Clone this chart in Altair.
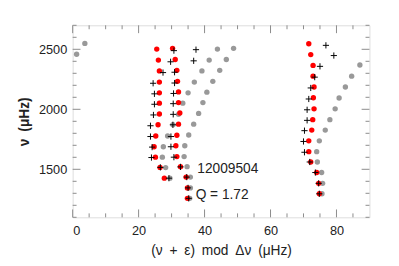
import altair as alt
import pandas as pd

# ---- data ----
red_x = [25.5, 26.0, 26.3, 26.3, 26.3, 26.3, 26.3, 25.9, 25.2, 24.7, 25.1, 26.5, 27.8,
         30.3, 31.1, 31.6, 31.8, 32.1, 32.1, 32.5, 32.1, 31.6, 31.3, 31.6, 32.7, 34.4, 34.8, 34.8,
         71.6, 72.2, 72.9, 72.9, 73.2, 73.0, 73.2, 72.8, 72.5, 71.6, 71.6, 72.2, 74.0, 74.6, 74.8]
red_y = [2502, 2410, 2320, 2227, 2137, 2051, 1961, 1871, 1778, 1688, 1601, 1516, 1426,
         2508, 2415, 2325, 2233, 2145, 2056, 1969, 1876, 1784, 1696, 1606, 1522, 1435, 1345, 1258,
         2546, 2456, 2366, 2276, 2186, 2096, 2004, 1914, 1827, 1737, 1647, 1561, 1473, 1383, 1296]

plus_x = [29.2, 26.6, 23.9, 24.1, 23.6, 23.6, 24.5, 24.8, 24.8, 24.4, 27.4,
          30.7, 29.7, 30.9, 30.9, 30.6, 30.5, 30.5, 30.4, 29.8, 29.8, 30.7, 32.7, 34.6, 35.0, 35.2,
          37.4, 36.7,
          76.8, 79.2, 75.0, 73.4, 72.2, 71.6, 71.1, 71.1, 70.3, 70.0, 70.3, 71.9, 73.6, 74.6, 74.8]
plus_y = [1426, 1516, 1598, 1685, 1773, 1863, 1953, 2042, 2129, 2217, 2306,
          2489, 2396, 2309, 2219, 2132, 2047, 1958, 1871, 1773, 1688, 1601, 1520, 1435, 1345, 1258,
          2497, 2404,
          2533, 2448, 2358, 2268, 2178, 2086, 1996, 1908, 1822, 1732, 1642, 1561, 1473, 1383, 1296]

gray_x = [35.5, 35.7, 35.7, 34.7, 33.8, 34.0, 35.2, 36.7, 38.2, 39.5, 40.7, 42.5, 44.6, 46.6, 48.8,
          29.5, 28.2, 27.2, 27.5, 28.8, 30.4, 32.1, 33.4, 35.0, 36.9, 39.2, 41.4, 43.9,
          75.6, 75.8, 75.5, 74.2, 74.0, 74.8, 76.6, 78.0, 79.6, 80.8, 82.7, 84.6, 87.1,
          1.2, 3.7]
gray_y = [1258, 1345, 1435, 1522, 1606, 1696, 1786, 1876, 1966, 2056, 2143, 2233, 2325, 2415, 2508,
          1426, 1514, 1601, 1688, 1778, 1871, 1958, 2051, 2137, 2227, 2320, 2410, 2502,
          1296, 1383, 1473, 1561, 1647, 1737, 1827, 1914, 2004, 2094, 2186, 2276, 2369,
          2459, 2549]

label_text = ["12009504", "Q = 1.72"]
label_x = [37.8, 37.3]
label_y = [1505, 1288]

x_major = [0, 20, 40, 60, 80]
x_minor = [5, 10, 15, 25, 30, 35, 45, 50, 55, 65, 70, 75, 85]
y_major = [1500, 2000, 2500]
y_minor = [1100, 1200, 1300, 1400, 1600, 1700, 1800, 1900, 2100, 2200, 2300, 2400, 2600, 2700]

W, H = 303, 196
FONT = "Liberation Sans"
AX = "#8a8a8a"
SP = "\u2002"

xs = alt.Scale(domain=[0, 90], nice=False, zero=False)
ys = alt.Scale(domain=[1100, 2700], nice=False, zero=False)

red = pd.DataFrame({"x": red_x, "y": red_y})
plus = pd.DataFrame({"x": plus_x, "y": plus_y})
gray = pd.DataFrame({"x": gray_x, "y": gray_y})
labels = pd.DataFrame({"t": label_text, "x": label_x, "y": label_y})

xtitle = "(ν" + SP + "+" + SP + "ε)" + SP + "mod" + SP + "Δν" + SP + "(μHz)"
ytitle = "ν" + SP + "(μHz)"

xaxis = alt.Axis(values=x_major, format="d", title=xtitle, domain=False, ticks=False, grid=False,
                 labelFont=FONT, labelFontSize=13, labelColor="#222", labelPadding=8,
                 titleFont=FONT, titleFontSize=14, titleFontWeight="normal", titleColor="#222", titlePadding=6)
yaxis = alt.Axis(values=y_major, format="d", title=ytitle, domain=False, ticks=False, grid=False,
                 labelFont=FONT, labelFontSize=13, labelColor="#222", labelPadding=6,
                 titleFont=FONT, titleFontSize=14, titleFontWeight="bold", titleColor="#222", titlePadding=7)

base_gray = alt.Chart(gray).mark_circle(size=30, color="#999999", opacity=1).encode(
    x=alt.X("x:Q", scale=xs, axis=xaxis),
    y=alt.Y("y:Q", scale=ys, axis=yaxis),
)
base_red = alt.Chart(red).mark_circle(size=30, color="#ff0000", opacity=1).encode(
    x=alt.X("x:Q", scale=xs), y=alt.Y("y:Q", scale=ys))
base_plus = alt.Chart(plus).mark_point(shape="M-1,0L1,0M0,-1L0,1", size=40, filled=False,
                                       color="#000000", strokeWidth=1, opacity=1).encode(
    x=alt.X("x:Q", scale=xs), y=alt.Y("y:Q", scale=ys))
txt = alt.Chart(labels).mark_text(align="left", baseline="middle", font=FONT, fontSize=14, color="#222").encode(
    x=alt.X("x:Q", scale=xs), y=alt.Y("y:Q", scale=ys), text="t:N")


def xticks(vals, ln):
    d = pd.DataFrame({"v": vals})
    b = alt.Chart(d).mark_rule(color=AX, strokeWidth=1)
    bottom = b.encode(x=alt.X("v:Q", scale=xs), y=alt.value(H), y2=alt.value(H - ln))
    top = b.encode(x=alt.X("v:Q", scale=xs), y=alt.value(0), y2=alt.value(ln))
    return [bottom, top]


def yticks(vals, ln):
    d = pd.DataFrame({"v": vals})
    b = alt.Chart(d).mark_rule(color=AX, strokeWidth=1)
    left = b.encode(y=alt.Y("v:Q", scale=ys), x=alt.value(0), x2=alt.value(ln))
    right = b.encode(y=alt.Y("v:Q", scale=ys), x=alt.value(W), x2=alt.value(W - ln))
    return [left, right]


tick_layers = xticks(x_major, 8) + xticks(x_minor, 4) + yticks(y_major, 8) + yticks(y_minor, 4)

chart = alt.layer(*tick_layers, base_gray, base_red, base_plus, txt).properties(
    width=W, height=H,
    autosize=alt.AutoSizeParams(type="none"),
    padding={"left": 66, "top": 15, "right": 22, "bottom": 45},
).configure_view(stroke=AX, strokeWidth=1.5).configure(background="white")

chart.save("out.html", embed_options={"renderer": "svg", "actions": False})
